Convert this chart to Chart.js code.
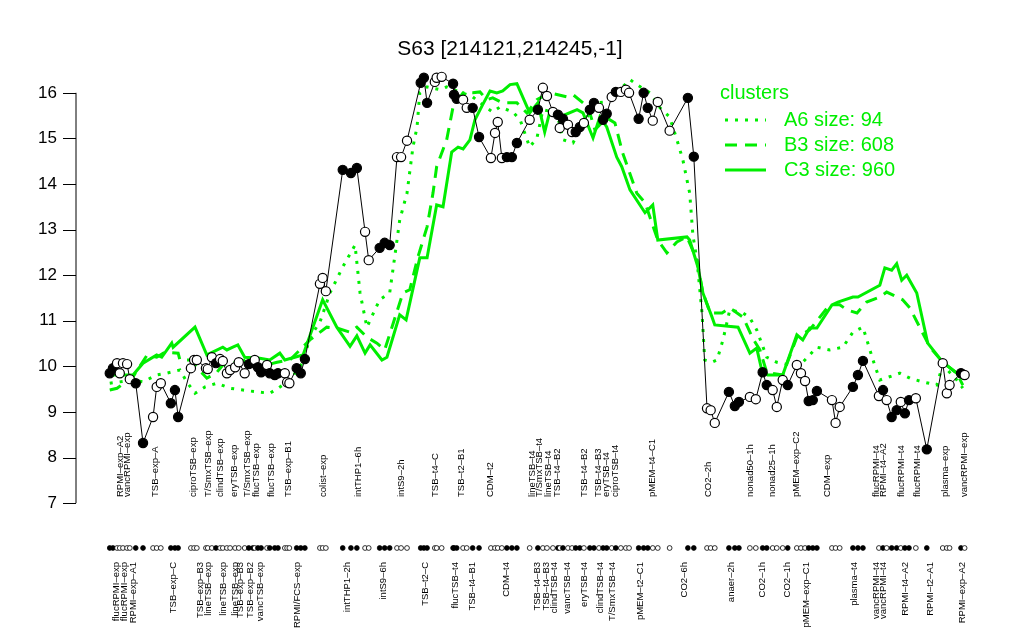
<!DOCTYPE html>
<html>
<head>
<meta charset="utf-8">
<script src="https://cdn.jsdelivr.net/npm/chart.js@4.4.1/dist/chart.umd.min.js"></script>
<style>
  html, body { margin: 0; padding: 0; background: #fff; }
</style>
</head>
<body>
<canvas id="chart" width="1024" height="640"></canvas>
<script>
// --- DATA ---
// sample positions along the x axis, probe values and open/filled marker flags
const samplePos = [1.4,2.1,3.0,3.6,4.3,5.2,5.8,7.1,8.7,10.9,11.7,12.6,14.8,15.7,16.4,19.2,19.9,20.5,22.5,22.9,
  23.8,24.7,25.6,26.2,27.1,27.8,28.9,29.7,31.0,31.9,32.8,33.2,33.9,34.6,35.9,36.5,37.6,38.3,39.8,40.3,
  40.8,42.4,43.3,44.2,47.5,48.1,48.8,52.5,54.3,55.6,57.4,58.2,60.6,61.7,62.8,64.4,65.3,66.6,69.6,70.3,
  71.0,72.7,73.1,74.2,76.7,76.9,77.5,78.9,79.7,81.0,82.4,85.0,85.9,86.5,87.4,88.5,89.6,90.7,93.5,95.3,
  96.4,97.3,98.6,99.7,100.1,100.8,101.9,102.8,103.6,104.5,105.4,106.7,107.6,108.7,109.6,110.4,111.5,112.4,113.5,114.6,
  115.3,117.4,118.5,119.4,120.5,121.6,124.2,128.2,129.5,132.4,133.2,134.1,137.2,138.5,139.4,141.8,143.1,144.6,145.5,146.8,
  147.7,149.0,150.1,152.1,153.0,153.9,154.7,155.6,156.5,159.8,160.6,161.5,164.4,165.5,166.6,170.1,171.0,171.8,172.9,174.0,
  174.9,175.8,176.7,178.2,180.6,184.1,185.0,185.6,188.1,188.9];
const sampleVal = [9.85,9.96,10.07,9.85,10.07,10.05,9.72,9.63,8.32,8.89,9.55,9.63,9.19,9.48,8.89,9.96,10.14,10.14,9.96,9.94,
  10.2,10.07,10.16,10.12,9.85,9.92,9.98,10.09,9.85,10.05,10.07,10.14,9.98,9.87,10.03,9.85,9.81,9.85,9.85,9.65,
  9.63,9.96,9.85,10.16,11.81,11.94,11.65,14.31,14.24,14.35,12.95,12.33,12.6,12.71,12.66,14.59,14.59,14.95,16.22,16.33,
  15.78,16.24,16.33,16.35,16.2,15.96,15.87,15.85,15.67,15.67,15.03,14.57,15.12,15.36,14.57,14.59,14.59,14.9,15.41,15.63,
  16.11,15.93,15.58,15.52,15.23,15.43,15.3,15.14,15.14,15.25,15.34,15.63,15.78,15.67,15.41,15.54,15.91,16.02,16.02,16.07,
  16.0,15.43,16.0,15.67,15.39,15.8,15.17,15.89,14.6,9.08,9.04,8.76,9.44,9.13,9.22,9.33,9.28,9.87,9.59,9.48,
  9.11,9.70,9.59,10.03,9.85,9.68,9.24,9.26,9.46,9.26,8.76,9.11,9.55,9.81,10.12,9.35,9.48,9.26,8.89,9.04,
  9.22,8.97,9.26,9.30,8.18,10.07,9.41,9.59,9.85,9.81];
const sampleFilled = [1,1,0,0,0,0,0,1,1,0,0,0,1,1,1,0,0,0,0,0,
  0,1,0,0,0,0,0,0,0,1,1,0,1,1,0,1,1,1,0,0,
  0,1,1,1,0,0,0,1,1,1,0,0,1,1,1,0,0,0,1,1,
  1,0,0,0,1,1,1,0,0,1,1,0,0,0,0,1,1,1,0,1,
  0,0,0,1,0,1,0,0,1,1,0,1,1,0,1,1,0,1,0,0,
  0,1,1,1,0,0,0,1,1,0,0,0,1,1,1,0,0,1,1,0,
  0,0,1,0,0,0,1,1,1,0,0,0,1,1,1,0,1,0,1,1,
  0,1,1,0,1,0,0,0,1,0];

// cluster profiles
const a6Pos = [1.4,6.5,8.7,11.7,13.9,16.8,18.3,20.1,22.3,24.9,27.8,30.6,33.7,36.5,38.3,40.9,43.8,45.3,47.5,49.7,
  52.5,55.2,56.3,57.8,60.6,62.8,63.9,65.0,66.6,67.9,68.8,69.4,71.0,73.8,75.3,81.0,84.1,85.4,87.0,89.8,
  91.4,93.5,95.1,96.4,99.5,100.8,103.0,105.2,108.2,110.4,113.3,115.5,117.0,119.9,122.1,124.2,125.8,127.1,128.6,129.3,
  130.2,131.3,131.9,133.5,134.6,135.9,137.4,140.3,141.8,143.3,145.5,147.7,150.6,153.4,156.5,159.3,162.2,164.4,166.6,168.8,
  170.3,174.7,176.9,179.7,182.8,184.1,187.2,188.5];
const a6Val = [9.63,9.70,9.66,9.81,9.85,9.92,9.66,9.41,9.55,9.63,9.52,9.48,9.44,9.41,9.52,9.70,10.09,10.64,10.97,11.61,
  12.18,12.66,11.61,10.86,11.46,11.61,12.40,13.21,13.80,14.81,15.25,16.00,16.13,16.07,16.13,15.91,15.67,15.58,15.69,15.58,
  15.41,14.81,15.01,15.63,15.56,14.97,14.90,15.34,15.78,15.80,16.07,16.29,16.18,16.00,15.67,15.47,14.97,14.53,13.80,12.88,
  12.33,11.17,10.14,10.09,10.14,10.58,11.24,11.17,11.06,10.80,10.20,10.09,10.03,10.09,10.42,10.36,10.42,10.75,10.86,10.14,
  9.70,9.85,9.74,9.66,9.59,10.03,9.70,9.52];

const b3Pos = [1.4,3.0,6.5,9.6,11.7,13.5,16.4,16.8,19.0,22.7,24.9,26.2,31.5,33.7,38.1,40.9,45.3,49.0,51.2,54.1,
  55.6,57.8,60.0,61.7,65.7,67.2,69.0,71.0,72.3,73.1,75.3,76.7,78.9,81.0,82.6,84.1,85.4,87.6,90.7,92.9,
  95.1,97.9,101.7,103.0,106.3,107.8,110.4,112.2,113.9,117.0,118.8,121.6,123.6,125.8,128.0,130.2,131.5,133.1,135.7,137.4,
  140.3,142.4,144.0,145.5,149.0,152.1,154.9,159.3,161.5,163.1,165.3,167.4,170.3,171.8,173.1,175.3,176.9,179.7,181.3,184.1,
  187.2,188.5];
const b3Val = [9.48,9.52,9.77,10.25,10.20,10.31,10.29,10.14,10.14,9.74,9.87,10.03,10.14,9.98,10.09,10.14,10.58,10.86,10.84,10.75,
  10.86,10.64,10.51,10.36,11.61,11.68,12.40,13.06,13.80,14.38,14.97,15.69,16.00,16.00,16.02,15.85,15.89,15.78,15.78,15.56,
  15.85,16.00,15.91,15.96,15.69,15.19,15.45,15.34,14.68,13.80,13.59,12.77,12.49,12.73,12.84,12.33,11.61,11.17,11.17,11.28,
  11.08,10.62,10.36,9.87,9.81,10.64,10.80,11.35,11.35,11.24,11.17,11.41,11.52,11.63,11.57,11.46,11.28,10.73,10.42,10.09,
  9.85,9.59];

const c3Pos = [1.4,6.5,8.7,11.7,12.8,15.0,15.3,20.1,22.7,26.2,27.1,28.4,29.5,31.0,34.3,36.5,38.7,39.8,43.8,48.1,
  51.2,54.1,55.6,57.4,58.5,61.1,62.2,65.0,66.4,69.4,71.0,73.1,74.5,76.4,77.8,78.9,80.4,81.5,83.2,84.8,
  86.3,87.6,89.2,90.7,93.5,95.3,96.8,97.9,100.1,103.9,105.2,107.4,108.9,110.4,112.6,113.7,115.5,118.8,120.5,121.6,
  128.0,128.6,130.4,131.5,133.5,134.1,139.2,141.8,143.3,144.4,145.7,149.0,152.1,153.4,154.9,156.5,159.8,161.1,164.4,165.5,
  170.3,171.4,172.9,174.0,175.1,176.2,178.4,180.8,184.1,187.2,188.5];
const c3Val = [9.81,9.81,10.07,10.25,10.20,10.51,10.42,10.86,10.25,10.42,10.36,10.42,10.47,10.20,10.18,10.14,10.29,10.14,10.25,11.46,
  10.86,10.44,10.67,10.29,10.47,10.14,10.20,11.13,11.02,12.38,12.38,13.54,13.50,14.70,14.81,14.77,14.97,15.41,15.74,16.04,
  16.00,16.04,16.18,16.20,15.56,15.78,15.14,15.58,15.47,15.63,15.56,15.01,15.47,15.25,14.59,14.38,13.87,13.37,13.54,12.77,
  12.84,12.77,12.18,11.61,11.08,10.91,10.86,10.29,10.40,9.92,9.81,9.81,10.69,10.58,10.84,10.84,11.35,11.41,11.52,11.52,
  11.78,12.16,12.11,12.25,11.89,12.00,11.61,10.51,10.09,9.85,9.74];

// tick labels (upper row and lower row)
const topLabels = ['RPMI\u2013exp\u2013A2','vancRPMI\u2013exp','TSB\u2013exp\u2013A','ciproTSB\u2013exp','T/SmxTSB\u2013exp','clindTSB\u2013exp',
  'eryTSB\u2013exp','T/SmxTSB\u2013exp','flucTSB\u2013exp','flucTSB\u2013exp','TSB\u2013exp\u2013B1','colist\u2013exp','intTHP1\u20136h','intS9\u20132h',
  'TSB\u2013t4\u2013C','TSB\u2013t2\u2013B1','CDM\u2013t2','lineTSB\u2013t4','T/SmxTSB\u2013t4','lineTSB\u2013t4','TSB\u2013t4\u2013B2','TSB\u2013t4\u2013B2',
  'TSB\u2013t4\u2013B3','eryTSB\u2013t4','ciproTSB\u2013t4','pMEM\u2013t4\u2013C1','CO2\u20132h','nonad50\u20131h','nonad25\u20131h','pMEM\u2013exp\u2013C2',
  'CDM\u2013exp','flucRPMI\u2013t4','RPMI\u2013t4\u2013A2','flucRPMI\u2013t4','flucRPMI\u2013t4','plasma\u2013exp','vancRPMI\u2013exp'];
const topLabelPos = [3.7,5.2,11.3,19.7,23.0,25.6,28.7,31.5,33.5,36.8,40.5,48.2,56.0,65.3,
  72.9,78.6,84.8,94.0,95.7,97.5,99.5,105.4,108.5,110.4,112.2,120.5,132.6,141.8,146.8,152.1,
  158.9,169.6,171.0,175.1,178.6,184.6,188.9];
const bottomLabels = ['flucRPMI\u2013exp','flucRPMI\u2013exp','RPMI\u2013exp\u2013A1','TSB\u2013exp\u2013C','TSB\u2013exp\u2013B3','lineTSB\u2013exp',
  'lineTSB\u2013exp','lineTSB\u2013exp','TSB\u2013exp\u2013B3','TSB\u2013exp\u2013B2','vancTSB\u2013exp','RPMI/FCS\u2013exp','intTHP1\u20132h','intS9\u20136h',
  'TSB\u2013t2\u2013C','flucTSB\u2013t4','TSB\u2013t4\u2013B1','CDM\u2013t4','TSB\u2013t4\u2013B3','TSB\u2013t4\u2013B3','clindTSB\u2013t4','vancTSB\u2013t4',
  'eryTSB\u2013t4','clindTSB\u2013t4','T/SmxTSB\u2013t4','pMEM\u2013t2\u2013C1','CO2\u20136h','anaer\u20132h','CO2\u20131h','CO2\u20131h',
  'pMEM\u2013exp\u2013C1','plasma\u2013t4','vancRPMI\u2013t4','vancRPMI\u2013t4','RPMI\u2013t4\u2013A2','RPMI\u2013t2\u2013A1','RPMI\u2013exp\u2013A2'];
const bottomLabelPos = [2.8,4.6,6.5,15.3,21.2,23.0,26.3,28.9,30.0,32.2,34.4,42.6,53.5,61.5,
  70.6,77.1,81.0,88.5,95.1,97.1,99.0,101.7,105.6,108.9,111.7,117.7,127.5,137.8,144.6,150.1,
  154.3,164.8,169.6,171.0,175.8,181.3,188.5];

const yTicks = [7, 8, 9, 10, 11, 12, 13, 14, 15, 16];
const clusterNames = ['A6 size: 94', 'B3 size: 608', 'C3 size: 960'];
const chartTitle = 'S63 [214121,214245,-1]';

const GREEN = '#00ee00';
const FONT = '"Liberation Sans", Arial, sans-serif';

const toXY = (xs, ys) => xs.map((x, i) => ({ x: x, y: ys[i] }));

// --- EXTRA DRAWING (R-style axis, label rows, legend, title) ---
const rDecor = {
    id: 'rDecor',
    afterDraw(chart) {
        const ctx = chart.ctx;
        const xs = chart.scales.x;
        const ys = chart.scales.y;
        const left = chart.chartArea.left;
        ctx.save();

        // y axis
        ctx.strokeStyle = '#000';
        ctx.lineWidth = 1;
        ctx.beginPath();
        ctx.moveTo(left, ys.getPixelForValue(yTicks[0]));
        ctx.lineTo(left, ys.getPixelForValue(yTicks[yTicks.length - 1]));
        yTicks.forEach(t => {
            const py = Math.round(ys.getPixelForValue(t)) + 0.5;
            ctx.moveTo(left, py);
            ctx.lineTo(left - 13, py);
        });
        ctx.stroke();
        ctx.fillStyle = '#000';
        ctx.font = '17px ' + FONT;
        ctx.textAlign = 'right';
        ctx.textBaseline = 'middle';
        yTicks.forEach(t => ctx.fillText(String(t), left - 19, ys.getPixelForValue(t)));

        // marker row
        samplePos.forEach((p, i) => {
            ctx.beginPath();
            ctx.arc(xs.getPixelForValue(p), 548, 2.4, 0, Math.PI * 2);
            ctx.fillStyle = sampleFilled[i] ? '#000' : '#fff';
            ctx.fill();
            ctx.lineWidth = 0.8;
            ctx.stroke();
        });

        // rotated sample labels
        ctx.fillStyle = '#000';
        ctx.font = '9.5px ' + FONT;
        ctx.textBaseline = 'middle';
        topLabels.forEach((txt, i) => {
            ctx.save();
            ctx.translate(xs.getPixelForValue(topLabelPos[i]), 497);
            ctx.rotate(-Math.PI / 2);
            ctx.textAlign = 'left';
            ctx.fillText(txt, 0, 0);
            ctx.restore();
        });
        bottomLabels.forEach((txt, i) => {
            ctx.save();
            ctx.translate(xs.getPixelForValue(bottomLabelPos[i]), 562);
            ctx.rotate(-Math.PI / 2);
            ctx.textAlign = 'right';
            ctx.fillText(txt, 0, 0);
            ctx.restore();
        });

        // title
        ctx.font = '21px ' + FONT;
        ctx.textAlign = 'center';
        ctx.textBaseline = 'alphabetic';
        ctx.fillText(chartTitle, 510, 55);

        // legend
        ctx.fillStyle = GREEN;
        ctx.strokeStyle = GREEN;
        ctx.font = '20px ' + FONT;
        ctx.textAlign = 'left';
        ctx.textBaseline = 'middle';
        ctx.fillText('clusters', 720, 93);
        const dashes = [[3, 7], [12, 8], []];
        clusterNames.forEach((name, i) => {
            const ly = 120 + i * 25;
            ctx.setLineDash(dashes[i]);
            ctx.lineWidth = 3;
            ctx.beginPath();
            ctx.moveTo(725, ly);
            ctx.lineTo(766, ly);
            ctx.stroke();
            ctx.setLineDash([]);
            ctx.fillText(name, 784, ly);
        });
        ctx.restore();
    }
};

new Chart(document.getElementById('chart'), {
    type: 'scatter',
    data: {
        datasets: [
            {
                data: toXY(samplePos, sampleVal),
                showLine: true,
                borderColor: '#000',
                borderWidth: 1,
                pointRadius: 4.6,
                pointBorderWidth: 1.2,
                pointBorderColor: '#000',
                pointBackgroundColor: sampleFilled.map(f => f ? '#000' : '#fff')
            },
            { data: toXY(a6Pos, a6Val), showLine: true, borderColor: GREEN, borderWidth: 3, borderDash: [3, 7], pointRadius: 0 },
            { data: toXY(b3Pos, b3Val), showLine: true, borderColor: GREEN, borderWidth: 3, borderDash: [12, 8], pointRadius: 0 },
            { data: toXY(c3Pos, c3Val), showLine: true, borderColor: GREEN, borderWidth: 3, pointRadius: 0 }
        ]
    },
    options: {
        responsive: false,
        animation: false,
        layout: { padding: { left: 76, right: 27, top: 60, bottom: 120 } },
        scales: {
            x: { type: 'linear', min: -6, max: 196, display: false },
            y: { min: 6.63, max: 16.72, display: false }
        },
        plugins: { legend: { display: false }, tooltip: { enabled: false } }
    },
    plugins: [rDecor]
});
</script>
</body>
</html>
